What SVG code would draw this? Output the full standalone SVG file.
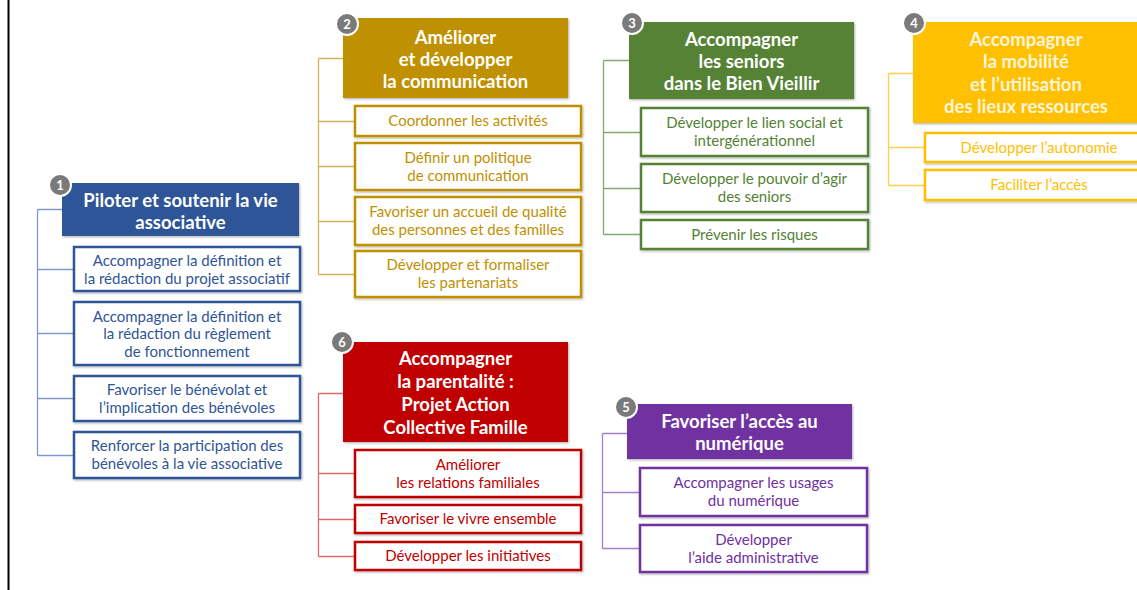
<svg xmlns="http://www.w3.org/2000/svg" width="1137" height="590" viewBox="0 0 1137 590">
<defs>
<filter id="sh" x="-5%" y="-10%" width="110%" height="130%"><feDropShadow dx="1" dy="1.2" stdDeviation="0.8" flood-color="#000" flood-opacity="0.3"/></filter>
</defs>
<style>
text{font-family:Lato,"Liberation Sans",sans-serif;text-anchor:middle}
.h{font-size:18.5px;font-weight:bold;fill:#fff}
.c{font-size:15px}
.box{fill:#fff;stroke-width:2.5;filter:url(#sh)}
.hd{filter:url(#sh)}
.badge circle{fill:#7a7a7a;stroke:#fff;stroke-width:2}
.badge text{font-size:13px;font-weight:bold;fill:#fff}
.cn{fill:none;stroke-width:1.3}
.b1{stroke:#2F5597}.t1{fill:#2F5597}
.b2{stroke:#BF9000}.t2{fill:#BF9000}
.b3{stroke:#548235}.t3{fill:#548235}
.b4{stroke:#FFC000}.t4{fill:#FFC000}
.b5{stroke:#7030A0}.t5{fill:#7030A0}
.b6{stroke:#C00000}.t6{fill:#C00000}
</style>
<rect width="1137" height="590" fill="#fff"/>
<line x1="8.5" y1="0" x2="8.5" y2="590" stroke="#000" stroke-width="2"/>

<g id="connectors">
<path class="cn" stroke="#7F98CC" d="M37.5 209.5V455.5M37.5 209.5H62M37.5 269.5H74M37.5 333.5H74M37.5 398.5H74M37.5 455.5H74"/>
<path class="cn" stroke="#D4B45A" d="M318.5 58.5V274.5M318.5 58.5H343M318.5 121.5H355M318.5 166.5H355M318.5 221.5H355M318.5 274.5H355"/>
<path class="cn" stroke="#86A870" d="M603.5 60.5V234.5M603.5 60.5H629M603.5 132.5H641M603.5 188.5H641M603.5 234.5H641"/>
<path class="cn" stroke="#FFCF4A" d="M888.5 73.5V185.5M888.5 73.5H913M888.5 147.5H925M888.5 185.5H925"/>
<path class="cn" stroke="#DD6A6A" d="M318.5 393.5V556.5M318.5 393.5H343M318.5 473.5H355M318.5 519.5H355M318.5 556.5H355"/>
<path class="cn" stroke="#A57FC6" d="M602.5 433.5V548.5M602.5 433.5H627M602.5 492.5H640M602.5 548.5H640"/>
</g>

<g id="n1">
<rect class="hd" x="62" y="183" width="237" height="53" fill="#2F5597"/>
<text class="h" x="180.5" y="206.5">Piloter et soutenir la vie</text>
<text class="h" x="180.5" y="228.5">associative</text>
<g class="badge"><circle cx="60" cy="185" r="11"/><text x="60" y="189.5">1</text></g>
</g>
<g id="n1a"><rect class="box b1" x="74" y="247" width="226" height="44"/>
<text class="c t1" x="187" y="266">Accompagner la définition et</text><text class="c t1" x="187" y="284">la rédaction du projet associatif</text></g>
<g id="n1b"><rect class="box b1" x="74" y="302" width="226" height="63"/>
<text class="c t1" x="187" y="321.5">Accompagner la définition et</text><text class="c t1" x="187" y="339">la rédaction du règlement</text><text class="c t1" x="187" y="356.5">de fonctionnement</text></g>
<g id="n1c"><rect class="box b1" x="74" y="376" width="226" height="45"/>
<text class="c t1" x="187" y="394.5">Favoriser le bénévolat et</text><text class="c t1" x="187" y="412.5">l’implication des bénévoles</text></g>
<g id="n1d"><rect class="box b1" x="74" y="432" width="226" height="46"/>
<text class="c t1" x="187" y="450.5">Renforcer la participation des</text><text class="c t1" x="187" y="468.5">bénévoles à la vie associative</text></g>

<g id="n2">
<rect class="hd" x="343" y="18" width="225" height="80" fill="#BF9000"/>
<text class="h" x="455.5" y="43.5">Améliorer</text>
<text class="h" x="455.5" y="65.5">et développer</text>
<text class="h" x="455.5" y="87.5">la communication</text>
<g class="badge"><circle cx="347" cy="24" r="11"/><text x="347" y="28.5">2</text></g>
</g>
<g id="n2a"><rect class="box b2" x="355" y="106" width="226" height="30"/>
<text class="c t2" x="468" y="126">Coordonner les activités</text></g>
<g id="n2b"><rect class="box b2" x="355" y="143" width="226" height="47"/>
<text class="c t2" x="468" y="162.5">Définir un politique</text><text class="c t2" x="468" y="180.5">de communication</text></g>
<g id="n2c"><rect class="box b2" x="355" y="197" width="226" height="48"/>
<text class="c t2" x="468" y="217">Favoriser un accueil de qualité</text><text class="c t2" x="468" y="235">des personnes et des familles</text></g>
<g id="n2d"><rect class="box b2" x="355" y="251" width="226" height="46"/>
<text class="c t2" x="468" y="270">Développer et formaliser</text><text class="c t2" x="468" y="288">les partenariats</text></g>

<g id="n3">
<rect class="hd" x="629" y="22" width="225" height="77" fill="#548235"/>
<text class="h" x="741.5" y="45.5">Accompagner</text>
<text class="h" x="741.5" y="67.5">les seniors</text>
<text class="h" x="741.5" y="89.5">dans le Bien Vieillir</text>
<g class="badge"><circle cx="632" cy="23" r="11"/><text x="632" y="27.5">3</text></g>
</g>
<g id="n3a"><rect class="box b3" x="641" y="108" width="227" height="48"/>
<text class="c t3" x="754.5" y="128">Développer le lien social et</text><text class="c t3" x="754.5" y="146">intergénérationnel</text></g>
<g id="n3b"><rect class="box b3" x="641" y="164" width="227" height="48"/>
<text class="c t3" x="754.5" y="184">Développer le pouvoir d’agir</text><text class="c t3" x="754.5" y="202">des seniors</text></g>
<g id="n3c"><rect class="box b3" x="641" y="220" width="227" height="29"/>
<text class="c t3" x="754.5" y="239.5">Prévenir les risques</text></g>

<g id="n4">
<rect class="hd" x="913" y="22" width="226" height="101" fill="#FFC000"/>
<text class="h" x="1026" y="45.5" style="fill:#FFF6DA">Accompagner</text>
<text class="h" x="1026" y="68" style="fill:#FFF6DA">la mobilité</text>
<text class="h" x="1026" y="90.5" style="fill:#FFF6DA">et l’utilisation</text>
<text class="h" x="1026" y="113" style="fill:#FFF6DA">des lieux ressources</text>
<g class="badge"><circle cx="914" cy="23" r="11"/><text x="914" y="27.5">4</text></g>
</g>
<g id="n4a"><rect class="box b4" x="925" y="133" width="228" height="29"/>
<text class="c t4" x="1039" y="152.5">Développer l’autonomie</text></g>
<g id="n4b"><rect class="box b4" x="925" y="170" width="228" height="30"/>
<text class="c t4" x="1039" y="190">Faciliter l’accès</text></g>

<g id="n6">
<rect class="hd" x="343" y="342" width="225" height="100" fill="#C00000"/>
<text class="h" x="455.5" y="364.5">Accompagner</text>
<text class="h" x="455.5" y="387.5">la parentalité :</text>
<text class="h" x="455.5" y="410.5">Projet Action</text>
<text class="h" x="455.5" y="433.5">Collective Famille</text>
<g class="badge"><circle cx="342" cy="342" r="11"/><text x="342" y="346.5">6</text></g>
</g>
<g id="n6a"><rect class="box b6" x="355" y="450" width="226" height="47"/>
<text class="c t6" x="468" y="469.5">Améliorer</text><text class="c t6" x="468" y="487.5">les relations familiales</text></g>
<g id="n6b"><rect class="box b6" x="355" y="505" width="226" height="28"/>
<text class="c t6" x="468" y="524">Favoriser le vivre ensemble</text></g>
<g id="n6c"><rect class="box b6" x="355" y="542" width="226" height="28"/>
<text class="c t6" x="468" y="561">Développer les initiatives</text></g>

<g id="n5">
<rect class="hd" x="627" y="404" width="225" height="55" fill="#7030A0"/>
<text class="h" x="739.5" y="427.5">Favoriser l’accès au</text>
<text class="h" x="739.5" y="449.5">numérique</text>
<g class="badge"><circle cx="626" cy="407" r="11"/><text x="626" y="411.5">5</text></g>
</g>
<g id="n5a"><rect class="box b5" x="640" y="468" width="227" height="48"/>
<text class="c t5" x="753.5" y="488">Accompagner les usages</text><text class="c t5" x="753.5" y="506">du numérique</text></g>
<g id="n5b"><rect class="box b5" x="640" y="525" width="227" height="47"/>
<text class="c t5" x="753.5" y="544.5">Développer</text><text class="c t5" x="753.5" y="562.5">l’aide administrative</text></g>
</svg>
